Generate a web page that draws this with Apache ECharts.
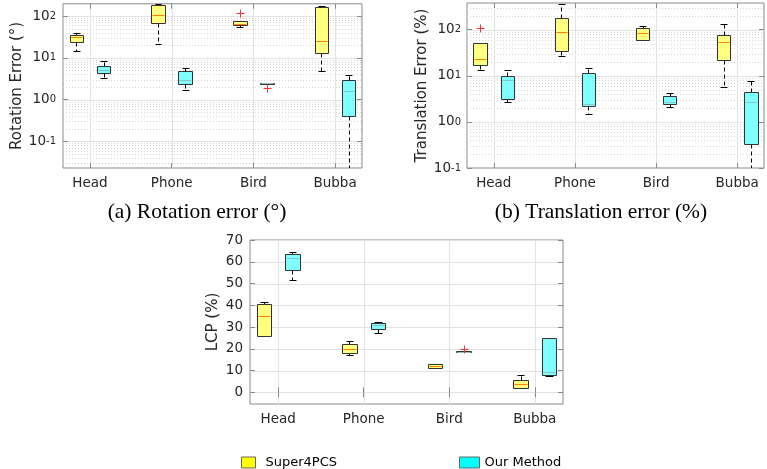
<!DOCTYPE html>
<html><head><meta charset="utf-8">
<script src="https://cdn.jsdelivr.net/npm/echarts@6/dist/echarts.min.js"></script>
<style>html,body{margin:0;padding:0;background:#fff}#c{width:767px;height:469px}</style>
</head><body><div id="c"></div>
<script>
// ---------------- data ----------------
const categories = ['Head', 'Phone', 'Bird', 'Bubba'];
const seriesNames = ['Super4PCS', 'Our Method'];
// each entry: [min, q1, median, q3, max]
const rotSuper4PCS = [[14.9, 23.5, 32, 35.9, 39.4], [21.5, 68, 105, 185, 190], [54.7, 61, 64.5, 77, 77], [4.8, 13.2, 25.4, 160, 170]];
const rotOurs      = [[3.34, 4.3, 5.0, 6.2, 8.6], [1.73, 2.4, 2.9, 4.8, 5.8], [2.4, 2.4, 2.45, 2.55, 2.55], [0.0235, 0.40, 1.64, 3.0, 3.94]];
const rotOutSuper4PCS = [[3, 118]];
const rotOutOurs      = [[3, 1.93]];

const transSuper4PCS = [[13.3, 17.1, 22.7, 50.6, 50.6], [26.5, 35, 87.8, 182, 365], [60.6, 60.6, 83.4, 109, 122], [5.6, 21.6, 55, 76.7, 135]];
const transOurs      = [[2.64, 3.1, 8.1, 10, 13.5], [1.52, 2.23, 2.5, 11.3, 14.5], [2.12, 2.39, 2.72, 3.57, 4.27], [0.1, 0.34, 2.64, 4.36, 7.8]];
const transOutSuper4PCS = [[1, 110]];
const transOutOurs      = [];

const lcpSuper4PCS = [[25.8, 26, 35, 40.7, 41.6], [17.1, 18.3, 19.7, 22, 23.5], [11.4, 11.4, 12.2, 13.2, 13.2], [2.0, 2.0, 4.0, 5.5, 7.8]];
const lcpOurs      = [[51.4, 56, 61.9, 63.6, 64.7], [27.5, 28.9, 31, 31.8, 32.3], [18.4, 18.4, 18.7, 19.0, 19.0], [7.4, 8.0, 9.5, 25, 25]];
const lcpOutSuper4PCS = [];
const lcpOutOurs      = [[3, 20.0]];

const categoryTicks = [1, 2, 3, 4];
const logTicks = [0.1, 1, 10, 100];
const lcpTicks = [0, 10, 20, 30, 40, 50, 60, 70];

// ---------------- style ----------------
const FONT = 'DejaVu Sans';
const TXT = '#262626';
const FRAME = '#8a8a8a';
const BOXW = 1 / 6;
const OFFS = [-1 / 6, 1 / 6];
const FILLS = ['#ffff80', '#80ffff'];
const MEDS = ['#ff8000', '#8cc4c4'];
const LEG = ['#ffff00', '#00ffff'];

function minorLogValues(lo, hi) {
  const out = [];
  for (let d = -3; d <= 3; d++) for (let k = 2; k <= 9; k++) {
    const v = k * Math.pow(10, d);
    if (v > lo && v < hi) out.push(v);
  }
  return out;
}

const chart = echarts.init(document.getElementById('c'));
const snap = v => Math.round(v) + 0.5;

function boxRender(offset, fill, medColor) {
  return function (params, api) {
    const x = api.value(0) + offset;
    const lo = api.value(1), q1 = api.value(2), md = api.value(3), q3 = api.value(4), hi = api.value(5);
    const h = BOXW / 2, c = BOXW / 4;
    const xl = snap(api.coord([x - h, q1])[0]), xr = snap(api.coord([x + h, q1])[0]);
    const xc = snap(api.coord([x, q1])[0]);
    const cl = snap(api.coord([x - c, q1])[0]), cr = snap(api.coord([x + c, q1])[0]);
    const yLo = snap(api.coord([x, lo])[1]), yQ1 = snap(api.coord([x, q1])[1]);
    const yMd = snap(api.coord([x, md])[1]), yQ3 = snap(api.coord([x, q3])[1]);
    const yHi = snap(api.coord([x, hi])[1]);
    const dash = { stroke: '#000', lineWidth: 1, lineDash: [4, 3] };
    const solid = { stroke: '#000', lineWidth: 1 };
    return {
      type: 'group', children: [
        { type: 'line', shape: { x1: xc, y1: yQ3, x2: xc, y2: yHi }, style: dash },
        { type: 'line', shape: { x1: xc, y1: yQ1, x2: xc, y2: yLo }, style: dash },
        { type: 'line', shape: { x1: cl, y1: yHi, x2: cr, y2: yHi }, style: solid },
        { type: 'line', shape: { x1: cl, y1: yLo, x2: cr, y2: yLo }, style: solid },
        { type: 'rect', shape: { x: xl, y: yQ3, width: xr - xl, height: Math.max(1, yQ1 - yQ3) }, style: { fill: fill, stroke: '#333', lineWidth: 1 } },
        { type: 'line', shape: { x1: xl + 1, y1: yMd, x2: xr - 1, y2: yMd }, style: { stroke: medColor, lineWidth: 1 } }
      ]
    };
  };
}

function outlierRender(offset) {
  return function (params, api) {
    const p = api.coord([api.value(0) + offset, api.value(1)]);
    const x = snap(p[0]), y = snap(p[1]), r = 4;
    const st = { stroke: '#ff3030', lineWidth: 1 };
    return { type: 'group', children: [
      { type: 'line', shape: { x1: x - r, y1: y, x2: x + r, y2: y }, style: st },
      { type: 'line', shape: { x1: x, y1: y - r, x2: x, y2: y + r }, style: st }
    ] };
  };
}

function hLines(gi, values, style) {
  return {
    type: 'custom', xAxisIndex: gi * 2, yAxisIndex: gi * 2, silent: true, z: 0, clip: true,
    data: values.map(v => [1, v]), encode: { x: 0, y: 1 },
    renderItem: (p, api) => {
      const cs = p.coordSys;
      const y = snap(api.coord([1, api.value(1)])[1]);
      return { type: 'line', shape: { x1: cs.x, y1: y, x2: cs.x + cs.width, y2: y }, style: style };
    }
  };
}
function vLines(gi, values, yRef, style) {
  return {
    type: 'custom', xAxisIndex: gi * 2, yAxisIndex: gi * 2, silent: true, z: 0, clip: true,
    data: values.map(v => [v, yRef]), encode: { x: 0, y: 1 },
    renderItem: (p, api) => {
      const cs = p.coordSys;
      const x = snap(api.coord([api.value(0), yRef])[0]);
      return { type: 'line', shape: { x1: x, y1: cs.y, x2: x, y2: cs.y + cs.height }, style: style };
    }
  };
}

function dataSeries(gi, boxes, outs) {
  const res = [];
  boxes.forEach((arr, si) => {
    res.push({
      type: 'custom', name: seriesNames[si], xAxisIndex: gi * 2, yAxisIndex: gi * 2, z: 3, clip: true,
      itemStyle: { color: LEG[si] },
      data: arr.map((d, i) => [i + 1].concat(d)),
      encode: { x: 0, y: [1, 2, 3, 4, 5] },
      renderItem: boxRender(OFFS[si], FILLS[si], MEDS[si])
    });
  });
  outs.forEach((arr, si) => {
    if (!arr.length) return;
    res.push({
      type: 'custom', name: seriesNames[si], xAxisIndex: gi * 2, yAxisIndex: gi * 2, z: 4, clip: true,
      itemStyle: { color: LEG[si] },
      data: arr, encode: { x: 0, y: 1 },
      renderItem: outlierRender(OFFS[si])
    });
  });
  return res;
}

const supFmt = v => {
  const e = Math.round(Math.log10(v));
  return '{b|10}{s|' + e + '}';
};
const supRich = {
  b: { fontFamily: FONT, fontSize: 13.5, color: TXT, lineHeight: 14, padding: [9, 0, 0, 0], verticalAlign: 'bottom' },
  s: { fontFamily: FONT, fontSize: 10, color: TXT, lineHeight: 10, verticalAlign: 'middle' }
};

function xAxes(gi) {
  return [{
    type: 'value', gridIndex: gi, min: 0.67, max: 4.33,
    axisLine: { show: false }, splitLine: { show: false },
    axisTick: { show: true, inside: true, length: 5, customValues: categoryTicks, lineStyle: { color: FRAME } },
    axisLabel: { customValues: categoryTicks, margin: 8, fontFamily: FONT, fontSize: 13.5, color: TXT, formatter: v => categories[Math.round(v) - 1] }
  }, {
    type: 'value', gridIndex: gi, position: 'top', min: 0.67, max: 4.33,
    axisLine: { show: false }, splitLine: { show: false }, axisLabel: { show: false },
    axisTick: { show: true, inside: true, length: 5, customValues: categoryTicks, lineStyle: { color: FRAME } }
  }];
}
function yAxes(gi, cfg) {
  const base = { type: cfg.type, gridIndex: gi, min: cfg.min, max: cfg.max, axisLine: { show: false }, splitLine: { show: false } };
  return [Object.assign({}, base, {
    name: cfg.name, nameLocation: 'middle', nameGap: cfg.nameGap,
    nameTextStyle: { fontFamily: FONT, fontSize: 15, color: TXT },
    axisTick: { show: true, inside: true, length: 5, customValues: cfg.ticks, lineStyle: { color: FRAME } },
    axisLabel: Object.assign({ customValues: cfg.ticks, margin: cfg.margin, fontFamily: FONT, fontSize: 13.5, color: TXT }, cfg.label || {})
  }), Object.assign({}, base, {
    position: 'right', axisLabel: { show: false },
    axisTick: { show: true, inside: true, length: 5, customValues: cfg.ticks, lineStyle: { color: FRAME } }
  })];
}

const rotMin = 0.0231, rotMax = 196;
const trMin = 0.1, trMax = 380;
const lcpMin = -5.35, lcpMax = 70;

const majorStyle = { stroke: '#e3e3e3', lineWidth: 1 };
const minorStyle = { stroke: '#d6d6d6', lineWidth: 1, lineDash: [1, 2] };

const option = {
  backgroundColor: '#fff',
  animation: false,
  grid: [
    { left: 63, top: 3, width: 299, height: 165, show: true, borderColor: FRAME, borderWidth: 1, backgroundColor: 'transparent' },
    { left: 467, top: 3, width: 297, height: 165, show: true, borderColor: FRAME, borderWidth: 1, backgroundColor: 'transparent' },
    { left: 250, top: 240, width: 313, height: 164, show: true, borderColor: FRAME, borderWidth: 1, backgroundColor: 'transparent' }
  ],
  xAxis: [].concat(xAxes(0), xAxes(1), xAxes(2)),
  yAxis: [].concat(
    yAxes(0, { type: 'log', min: rotMin, max: rotMax, ticks: logTicks, name: 'Rotation Error (°)', nameGap: 34, margin: 7, label: { formatter: supFmt, rich: supRich } }),
    yAxes(1, { type: 'log', min: trMin, max: trMax, ticks: logTicks, name: 'Translation Error (%)', nameGap: 35, margin: 6, label: { formatter: supFmt, rich: supRich } }),
    yAxes(2, { type: 'value', min: lcpMin, max: lcpMax, ticks: lcpTicks, name: 'LCP (%)', nameGap: 29, margin: 7 })
  ),
  legend: [
    { left: 241, top: 456, padding: 0, itemWidth: 14, itemHeight: 11, selectedMode: false, icon: 'rect',
      textStyle: { fontFamily: FONT, fontSize: 13, color: '#000', padding: [0, 0, 0, 5] },
      data: [{ name: 'Super4PCS', itemStyle: { color: LEG[0], borderColor: '#666', borderWidth: 1 } }] },
    { left: 459, top: 456, padding: 0, itemWidth: 20, itemHeight: 11, selectedMode: false, icon: 'rect',
      textStyle: { fontFamily: FONT, fontSize: 13, color: '#000' },
      data: [{ name: 'Our Method', itemStyle: { color: LEG[1], borderColor: '#666', borderWidth: 1 } }] }
  ],
  graphic: [
    { type: 'text', x: 197, y: 212, style: { text: '(a) Rotation error (°)', font: '21.5px "Liberation Serif"', fill: '#000', textAlign: 'center', textVerticalAlign: 'middle' } },
    { type: 'text', x: 601, y: 212, style: { text: '(b) Translation error (%)', font: '21.5px "Liberation Serif"', fill: '#000', textAlign: 'center', textVerticalAlign: 'middle' } }
  ],
  series: [].concat(
    hLines(0, minorLogValues(rotMin, rotMax), minorStyle),
    hLines(0, logTicks, majorStyle),
    vLines(0, categoryTicks, 1, majorStyle),
    dataSeries(0, [rotSuper4PCS, rotOurs], [rotOutSuper4PCS, rotOutOurs]),
    hLines(1, minorLogValues(trMin, trMax), minorStyle),
    hLines(1, logTicks, majorStyle),
    vLines(1, categoryTicks, 1, majorStyle),
    dataSeries(1, [transSuper4PCS, transOurs], [transOutSuper4PCS, transOutOurs]),
    hLines(2, lcpTicks, majorStyle),
    vLines(2, categoryTicks, 10, majorStyle),
    dataSeries(2, [lcpSuper4PCS, lcpOurs], [lcpOutSuper4PCS, lcpOutOurs])
  )
};
chart.setOption(option);
</script>
</body></html>
